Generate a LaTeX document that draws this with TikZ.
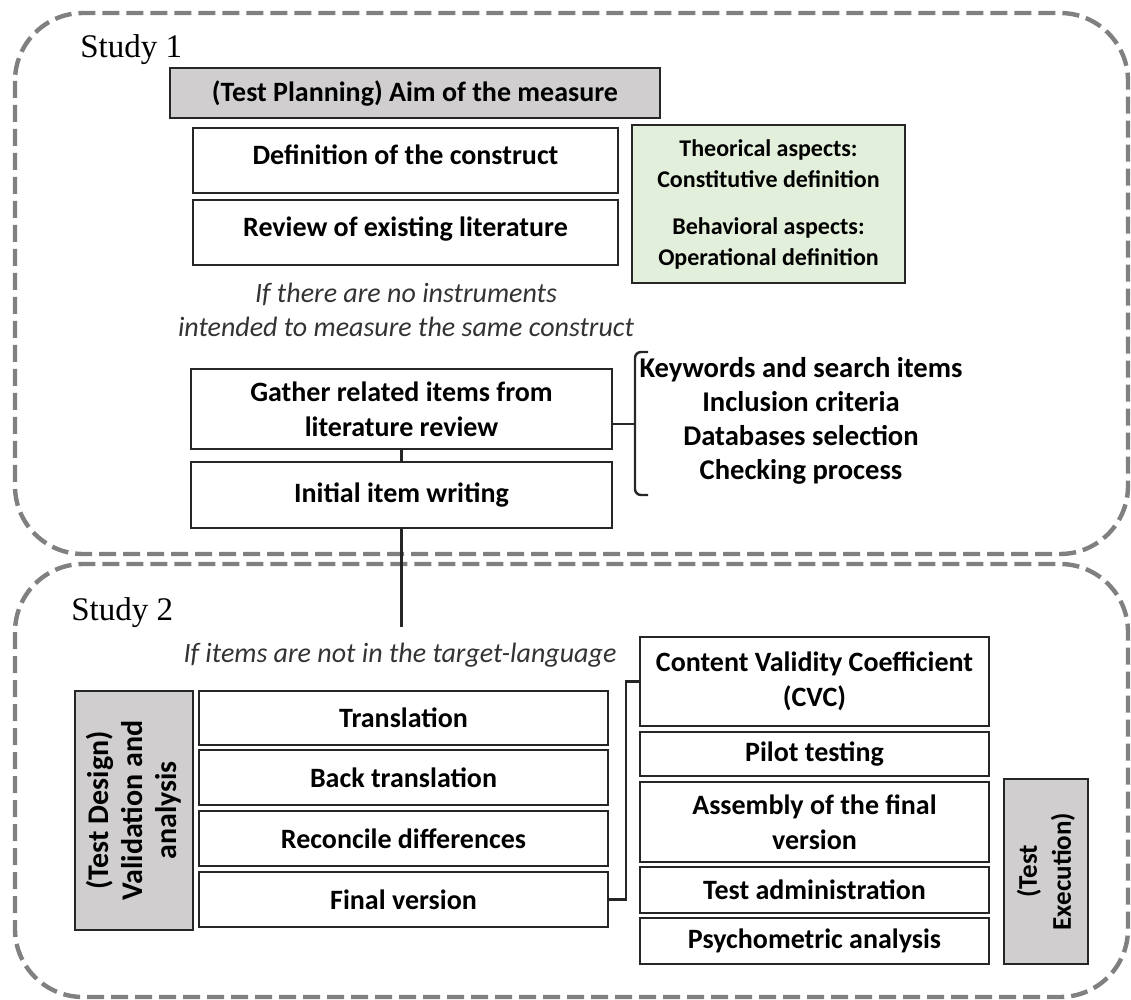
\documentclass[tikz,border=0pt]{standalone}
\usepackage{fontspec}
\setmainfont{Carlito}
\newfontfamily\studyfont{Liberation Serif}
\usetikzlibrary{positioning,calc}
\definecolor{frame}{HTML}{808080}
\definecolor{edge}{HTML}{262626}
\definecolor{greyfill}{HTML}{D0CECE}
\definecolor{greenfill}{HTML}{E2EFDA}
\tikzset{
  box/.style={draw=edge,line width=1.2pt,align=center,fill=white,inner sep=2pt,
              font=\bfseries\fontsize{14}{17.5}\selectfont},
  greybox/.style={box,fill=greyfill},
  theory/.style={box,fill=greenfill,font=\bfseries\fontsize{12}{15.5}\selectfont},
  note/.style={align=center,text=black!80,font=\itshape\fontsize{14}{17}\selectfont},
  crit/.style={align=center,font=\bfseries\fontsize{14.3}{17}\selectfont},
  studybox/.style={draw=frame,line width=2.2pt,dash pattern=on 8.5pt off 3.5pt,rounded corners=34pt},
  studylabel/.style={anchor=base west,inner sep=0pt,font=\studyfont\fontsize{16.5}{18}\selectfont},
  link/.style={draw=edge,line width=1.2pt},
}

\begin{document}
\begin{tikzpicture}[x=0.5pt,y=-0.5pt]
  \useasboundingbox (0,0) rectangle (1131,1000);
  % study frames
  \draw[studybox] (15,13) rectangle (1128,554);
  \draw[studybox] (15,564) rectangle (1128,997);
  \node[studylabel] (s1) at (80,58) {Study 1};
  \node[studylabel] (s2) at (71,620) {Study 2};

  % study 1
  \node[greybox,minimum width=245pt,minimum height=25pt] (plan) at (415,93) {(Test Planning) Aim of the measure};
  \node[box,minimum width=212.5pt,minimum height=32.5pt,text depth=6pt] (defn) at (405.5,160.5) {Definition of the construct};
  \node[box,minimum width=212.5pt,minimum height=32.5pt,text depth=6pt] (review) at (405.5,232.5) {Review of existing literature};
  \node[theory,minimum width=136.5pt,minimum height=79pt] (aspects) at (768.5,204)
    {Theorical aspects:\\Constitutive definition\\[8pt]Behavioral aspects:\\Operational definition};
  \node[note] (noinst) at (406,310) {If there are no instruments\\intended to measure the same construct};
  \node[box,minimum width=210.5pt,minimum height=40pt] (gather) at (401.5,409) {Gather related items from\\literature review};
  \node[box,minimum width=210.5pt,minimum height=33pt] (initial) at (401.5,495) {Initial item writing};
  \node[crit] (search) at (801,421) {Keywords and search items\\Inclusion criteria\\Databases selection\\Checking process};
  \coordinate (brtop) at (648,352);
  \coordinate (brbot) at (648,495);
  \draw[link,rounded corners=3pt] (brtop) -- (635,352) -- (635,495) -- (brbot);
  \draw[link] ($(gather.east)+(0,15)$) -- (635,424);
  \draw[link] (gather.south) -- (initial.north);
  \coordinate (drop) at (401.5,627);
  \draw[link] (initial.south) -- (drop);

  % study 2
  \node[note] (target) at (400,655) {If items are not in the target-language};
  \node[greybox,rotate=90,minimum width=119.5pt,minimum height=59pt,font=\bfseries\fontsize{15}{17}\selectfont] (design) at (134,810.5)
    {(Test Design)\\Validation and\\analysis};
  \node[box,minimum width=204.5pt,minimum height=27pt] (trans) at (403.5,718) {Translation};
  \node[box,minimum width=204.5pt,minimum height=27.5pt] (back) at (403.5,777.5) {Back translation};
  \node[box,minimum width=204.5pt,minimum height=27.5pt] (recon) at (403.5,838.5) {Reconcile differences};
  \node[box,minimum width=204.5pt,minimum height=27.5pt] (final) at (403.5,899.5) {Final version};
  \node[box,minimum width=174.5pt,minimum height=44.5pt] (cvc) at (814.5,681.5) {Content Validity Coefficient\\(CVC)};
  \node[box,minimum width=174.5pt,minimum height=22pt] (pilot) at (814.5,754) {Pilot testing};
  \node[box,minimum width=174.5pt,minimum height=40pt] (assembly) at (814.5,822) {Assembly of the final\\version};
  \node[box,minimum width=174.5pt,minimum height=23pt] (admin) at (814.5,890) {Test administration};
  \node[box,minimum width=174.5pt,minimum height=23pt] (psycho) at (814.5,941) {Psychometric analysis};
  \node[greybox,rotate=90,minimum width=92.5pt,minimum height=42pt,font=\bfseries\fontsize{13.5}{17}\selectfont] (exec) at (1046,871.5) {(Test\\Execution)};
  \draw[link] (final.east) -- ++(17,0) |- (cvc.west);
\end{tikzpicture}
\end{document}
